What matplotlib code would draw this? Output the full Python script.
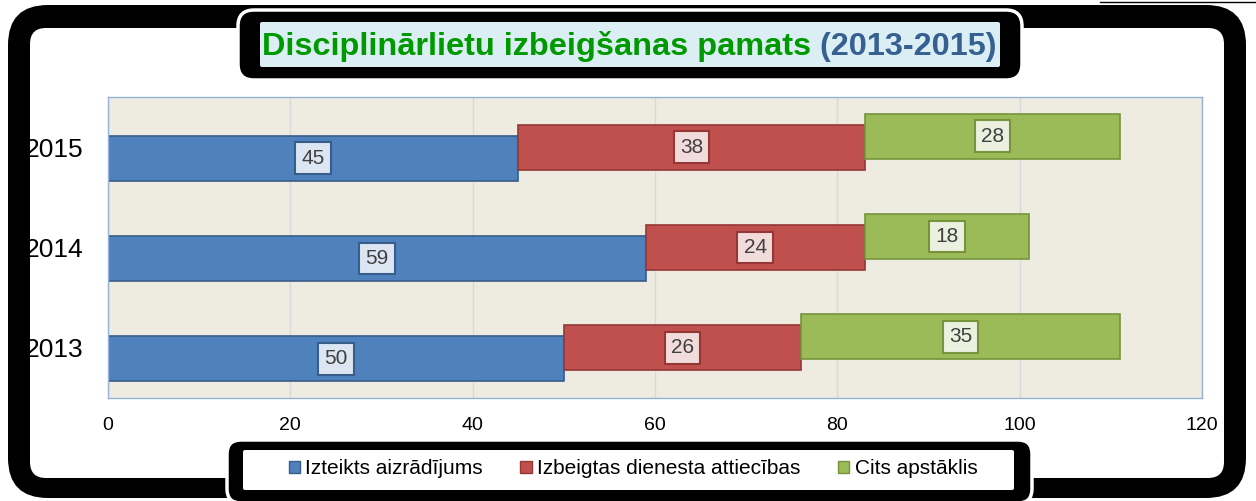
import matplotlib
matplotlib.use('Agg')
import matplotlib.pyplot as plt
from matplotlib.patches import FancyBboxPatch, Patch

plt.rcParams['font.family'] = ['Liberation Sans', 'DejaVu Sans']

# dati
years = ['2013', '2014', '2015']
series = ['Izteikts aizrādījums', 'Izbeigtas dienesta attiecības', 'Cits apstāklis']
aizradijums = [50, 59, 45]
dienests = [26, 24, 38]
cits = [35, 18, 28]

colors = ['#4F81BD', '#C0504D', '#9BBB59']
edges = ['#385D8A', '#953735', '#77933C']
label_bg = ['#DCE6F2', '#F2DCDB', '#EBF1DE']

W, H = 1256, 501
fig = plt.figure(figsize=(W / 100, H / 100), dpi=100)

# fona slānis pikseļu koordinātēs (rāmji)
bg = fig.add_axes([0, 0, 1, 1], zorder=0)
bg.set_xlim(0, W)
bg.set_ylim(H, 0)
bg.axis('off')


def rbox(x0, y0, x1, y1, r, fc, ec='none', lw=0):
    bg.add_patch(FancyBboxPatch((x0, y0), x1 - x0, y1 - y0,
                                boxstyle=f'round,pad=0,rounding_size={r}',
                                fc=fc, ec=ec, lw=lw))


# ārējais rāmis
rbox(8, 5, 1246, 498, 40, 'black')
rbox(30, 28, 1224, 478, 16, 'white')
bg.plot([1100, 1256], [1.5, 1.5], color='black', lw=1)

# virsraksta lodziņš
rbox(238, 10, 1022, 80, 16, 'black', 'white', 2.5)
rbox(260, 22, 1000, 67, 2, '#DBEEF4')
t1 = bg.text(262, 46, 'Disciplinārlietu izbeigšanas pamats', color='#009A00',
             fontsize=23.4, fontweight='bold', ha='left', va='center')
bg.annotate(' (2013-2015)', xy=(1, 0), xycoords=t1, ha='left', va='bottom',
            color='#376092', fontsize=23.4, fontweight='bold')

# leģendas lodziņš
rbox(227, 440, 1032, 503, 14, 'black', 'white', 2.5)
rbox(243, 450, 1014, 490, 2, 'white')

# galvenais grafiks
ax = fig.add_axes([108 / W, 1 - 398 / H, (1202 - 108) / W, (398 - 97) / H], zorder=1)
ax.set_facecolor('#EEEBE0')

pos = list(range(len(years)))
offsets = [-0.11, 0.0, 0.11]
h = 0.45
lefts = [0] * len(years)
for k, vals in enumerate([aizradijums, dienests, cits]):
    yk = [p + offsets[k] for p in pos]
    ax.barh(yk, vals, left=lefts, height=h, color=colors[k], edgecolor=edges[k],
            linewidth=1.2, zorder=2 + k)
    for y, l, v in zip(yk, lefts, vals):
        ax.text(l + v / 2, y, str(v), ha='center', va='center', fontsize=15,
                color='#404040', zorder=10,
                bbox=dict(boxstyle='square,pad=0.3', fc=label_bg[k], ec=edges[k], lw=1.5))
    lefts = [l + v for l, v in zip(lefts, vals)]

ax.set_xlim(0, 120)
ax.set_ylim(-0.5, 2.5)
ax.set_xticks(range(0, 121, 20))
ax.set_yticks(pos)
ax.set_yticklabels(years, fontsize=19)
ax.tick_params(axis='x', labelsize=14, length=0, pad=14)
ax.tick_params(axis='y', length=0, pad=18)
ax.grid(axis='x', color='#D9D9D9', lw=1, zorder=0)
ax.set_axisbelow(True)
for s in ax.spines.values():
    s.set_color('#95B3D7')
    s.set_linewidth(1)

handles = [Patch(fc=c, ec=e, lw=1) for c, e in zip(colors, edges)]
fig.legend(handles, series, loc='center', bbox_to_anchor=(633 / W, 1 - 469 / H),
           ncol=3, frameon=False, fontsize=15, handlelength=0.55, handleheight=0.55,
           handletextpad=0.25, columnspacing=1.8)

fig.savefig('out.png', dpi=100)
